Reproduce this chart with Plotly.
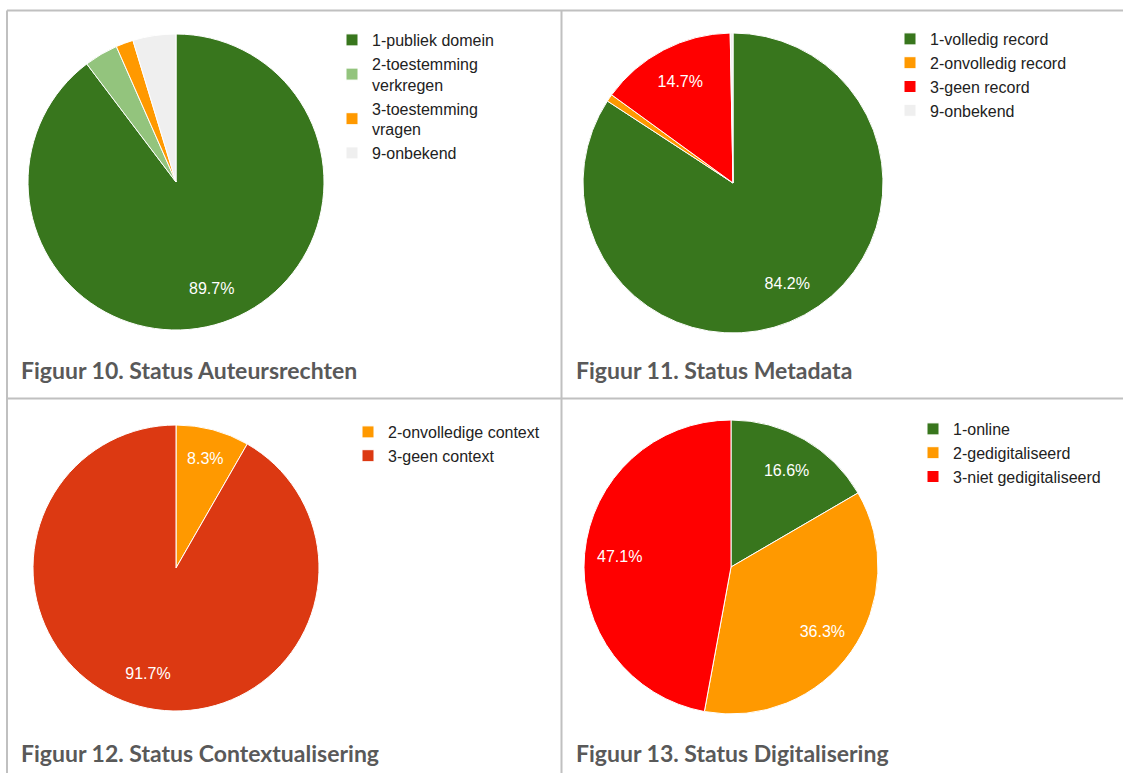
import plotly.graph_objects as go

W, H = 1123, 773

# Figuur 10 - Status Auteursrechten
auteurs_labels = ["1-publiek domein", "2-toestemming<br>verkregen",
                  "3-toestemming<br>vragen", "9-onbekend"]
auteurs_values = [89.7, 3.7, 1.9, 4.7]

# Figuur 11 - Status Metadata
# (zero-width space: plotly merges pie legend items with identical labels)
metadata_labels = ["1-volledig record", "2-onvolledig record",
                   "3-geen record", "9-onbekend\u200b"]
metadata_values = [84.2, 0.8, 14.7, 0.3]

# Figuur 12 - Status Contextualisering
context_labels = ["2-onvolledige context", "3-geen context"]
context_values = [8.3, 91.7]

# Figuur 13 - Status Digitalisering
digi_labels = ["1-online", "2-gedigitaliseerd", "3-niet gedigitaliseerd"]
digi_values = [16.6, 36.3, 47.1]

captions = ["Figuur 10. Status Auteursrechten", "Figuur 11. Status Metadata",
            "Figuur 12. Status Contextualisering", "Figuur 13. Status Digitalisering"]

GREEN = "#38761d"
LIGHT_GREEN = "#93c47d"
ORANGE = "#ff9900"
RED = "#ff0000"
GREY = "#efefef"
BRICK = "#dc3912"

BORDER = "#c0c0c0"
TEXT = "#222222"
CAPTION = "#595959"
FONT = "Liberation Sans, Arial"


def px_x(v):
    return v / W


def px_y(v):
    return 1 - v / H


def domain(cx, cy, r):
    return dict(x=[px_x(cx - r), px_x(cx + r)], y=[px_y(cy + r), px_y(cy - r)])


def templates(values, threshold=7.5):
    total = sum(values)
    return ["%{percent:.1%}" if v / total * 100 >= threshold else "" for v in values]


panels = [
    # labels, values, colors, center x, center y, radius, legend x, legend y
    (auteurs_labels, auteurs_values, [GREEN, LIGHT_GREEN, ORANGE, GREY], 176, 182, 148, 332, 23),
    (metadata_labels, metadata_values, [GREEN, ORANGE, RED, GREY], 733, 183, 150, 890, 22),
    (context_labels, context_values, [ORANGE, BRICK], 176, 568, 143, 348, 415),
    (digi_labels, digi_values, [GREEN, ORANGE, RED], 731, 567, 147, 913, 412),
]

fig = go.Figure()
layout_legends = {}

for i, (labels, values, colors, cx, cy, r, lx, ly) in enumerate(panels):
    leg = "legend" if i == 0 else f"legend{i + 1}"
    fig.add_trace(
        go.Pie(
            labels=labels,
            values=values,
            sort=False,
            direction="clockwise",
            rotation=0,
            domain=domain(cx, cy, r),
            marker=dict(colors=colors, line=dict(color="white", width=1)),
            textinfo="none",
            hovertemplate="%{label}<br>%{percent:.1%}<extra></extra>",
            legend=leg,
            showlegend=True,
        )
    )
    # transparent donut on top that carries the percentage labels,
    # so they sit in the outer ring of the pie like in the original
    fig.add_trace(
        go.Pie(
            labels=labels,
            values=values,
            sort=False,
            direction="clockwise",
            rotation=0,
            hole=0.52,
            domain=domain(cx, cy, r),
            marker=dict(colors=["rgba(0,0,0,0)"] * len(values), line=dict(width=0)),
            texttemplate=templates(values),
            textposition="inside",
            insidetextorientation="horizontal",
            textfont=dict(family=FONT, size=16, color="white"),
            hoverinfo="skip",
            showlegend=False,
            legend=leg,
        )
    )
    layout_legends[leg] = dict(
        x=px_x(lx), y=px_y(ly), xanchor="left", yanchor="top",
        font=dict(family=FONT, size=16, color=TEXT),
        bgcolor="rgba(0,0,0,0)", traceorder="normal",
    )

# grid lines between the panels
lines = [
    (7, 10.5, W, 10.5),
    (7, 398.5, W, 398.5),
    (7, 10.5, 7, H),
    (561.5, 10.5, 561.5, H),
]
for x0, y0, x1, y1 in lines:
    fig.add_shape(type="line", xref="paper", yref="paper",
                  x0=px_x(x0), y0=px_y(y0), x1=px_x(x1), y1=px_y(y1),
                  line=dict(color=BORDER, width=2))

caption_pos = [(19, 370), (574, 370), (19, 753), (574, 753)]
for text, (x, y) in zip(captions, caption_pos):
    fig.add_annotation(
        text=f"<b>{text}</b>", xref="paper", yref="paper",
        x=px_x(x), y=px_y(y), xanchor="left", yanchor="middle",
        showarrow=False,
        font=dict(family="Lato, Open Sans, sans-serif", size=23, color=CAPTION),
    )

fig.update_layout(
    width=W, height=H,
    margin=dict(l=0, r=0, t=0, b=0),
    paper_bgcolor="white",
    plot_bgcolor="white",
    **layout_legends,
)

fig.write_html("out.html", config={"displayModeBar": False},
               post_script="document.body.style.margin = '0';")
